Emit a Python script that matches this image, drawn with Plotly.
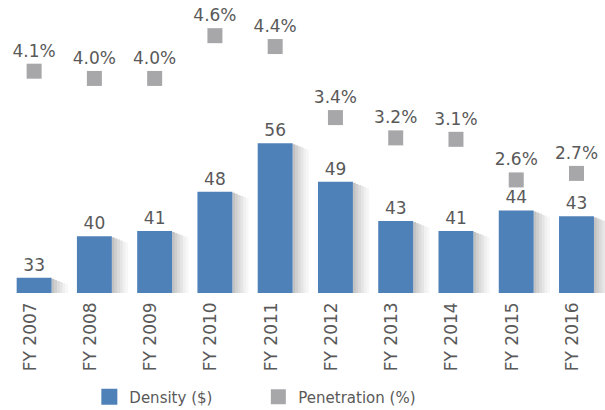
import plotly.graph_objects as go

categories = ["FY 2007", "FY 2008", "FY 2009", "FY 2010", "FY 2011",
              "FY 2012", "FY 2013", "FY 2014", "FY 2015", "FY 2016"]
density = [32.9, 40.0, 40.9, 47.6, 55.9, 49.3, 42.6, 40.9, 44.4, 43.4]
penetration = [4.08, 3.98, 3.98, 4.57, 4.42, 3.44, 3.16, 3.14, 2.58, 2.67]

BLUE = "#4F81B9"
GRAY = "#A7A7AA"
TXT = "#595959"
FONT = "DejaVu Sans"

fig = go.Figure()

# soft shadow strips to the right of each bar
shadow_alpha = [0.24, 0.19, 0.14, 0.10, 0.06, 0.03]
strip_w = 0.045
for i, a in enumerate(shadow_alpha):
    fig.add_trace(go.Bar(
        x=categories, y=[v - 0.18 * (i + 1) for v in density],
        width=strip_w, offset=0.29 + i * strip_w,
        marker=dict(color=f"rgba(0,0,0,{a})", line=dict(width=0)),
        showlegend=False, hoverinfo="skip",
    ))

fig.add_trace(go.Bar(
    x=categories, y=density, name="Density ($)",
    width=0.58, offset=-0.29,
    marker=dict(color=BLUE, line=dict(width=0)),
    texttemplate="%{y:.0f}", textposition="outside",
    textfont=dict(family=FONT, size=17, color=TXT),
    cliponaxis=False, showlegend=False,
))

fig.add_trace(go.Scatter(
    x=[None], y=[None], name="Density ($)", mode="markers",
    marker=dict(symbol="square", size=16, color=BLUE),
    showlegend=True, legendrank=1,
))

fig.add_trace(go.Scatter(
    x=categories, y=penetration, name="Penetration (%)", yaxis="y2",
    mode="markers+text",
    marker=dict(symbol="square", size=15, color=GRAY),
    texttemplate="%{y:.1f}%", textposition="top center",
    textfont=dict(family=FONT, size=17, color=TXT),
    cliponaxis=False, legendrank=2,
))

fig.update_layout(
    width=605, height=410,
    margin=dict(l=4, r=0, t=4, b=117, autoexpand=False),
    paper_bgcolor="white", plot_bgcolor="white",
    barmode="overlay",
    font=dict(family=FONT, color=TXT),
    xaxis=dict(type="category", range=[-0.5, 9.473], showgrid=False,
               showline=False, ticks="", tickangle=-90, automargin=False,
               ticklabelstandoff=5, ticklabelshift=-4,
               tickfont=dict(family=FONT, size=17, color=TXT)),
    yaxis=dict(range=[30.3, 79.67], visible=False, showgrid=False, zeroline=False),
    yaxis2=dict(range=[1.02, 5.007], overlaying="y", side="right",
                visible=False, showgrid=False, zeroline=False),
    legend=dict(orientation="h", x=0.142, xanchor="left", y=-0.36, yanchor="middle",
                font=dict(family=FONT, size=15, color=TXT),
                entrywidth=124, bgcolor="rgba(0,0,0,0)"),
    showlegend=True,
)

fig.write_html(
    "out.html",
    config={"displayModeBar": False},
    post_script="document.body.style.margin='0';document.body.style.overflow='hidden';",
)
